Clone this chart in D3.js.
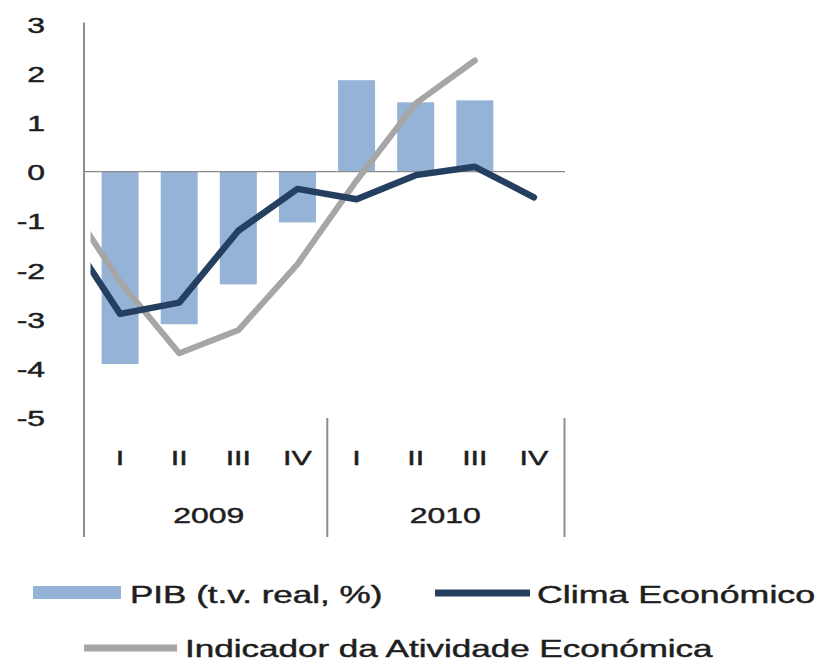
<!DOCTYPE html>
<html>
<head>
<meta charset="utf-8">
<script src="https://cdn.jsdelivr.net/npm/d3@7"></script>
<style>
  html, body { margin: 0; padding: 0; background: #fff; }
  svg { display: block; }
  text { font-family: "Liberation Sans", Arial, sans-serif; fill: #1e1e1e; stroke: #1e1e1e; stroke-width: 0.45px; }
</style>
</head>
<body>
<svg id="chart" width="822" height="662"></svg>
<script>
// ---- data ----
const quarterKeys = ["2008-IV", "2009-I", "2009-II", "2009-III", "2009-IV", "2010-I", "2010-II", "2010-III", "2010-IV"];
const quarterLabels = ["", "I", "II", "III", "IV", "I", "II", "III", "IV"];
const years = ["2009", "2010"];
const pib = [null, -3.91, -3.10, -2.29, -1.03, 1.86, 1.41, 1.45, null];
const clima = [-1.05, -2.89, -2.66, -1.20, -0.35, -0.56, -0.07, 0.10, -0.52];
const indicador = [-0.40, -2.24, -3.69, -3.22, -1.88, -0.18, 1.39, 2.26, null];
const yTicks = [3, 2, 1, 0, -1, -2, -3, -4, -5];
const seriesNames = ["PIB (t.v.  real, %)", "Clima Económico", "Indicador da Atividade Económica"];

// ---- layout ----
const SX = 1.45;             // horizontal stretch of the original image text
const colBar = "#95b3d7", colClima = "#243f60", colInd = "#a6a6a6", colAxis = "#8c8c8c";

const svg = d3.select("#chart");
const x = d3.scaleBand().domain(quarterKeys).range([31.4, 563.5]).paddingInner(0).paddingOuter(0);
const step = x.bandwidth();
const cx = k => x(k) + step / 2;
const y = d3.scaleLinear().domain([-5, 3]).range([417.7, 24.1]);

// clip for plot area
svg.append("defs").append("clipPath").attr("id", "plotclip")
  .append("rect").attr("x", 90.5).attr("y", 0).attr("width", 480).attr("height", 540);

// bars
const barW = 37;
svg.append("g").selectAll("rect")
  .data(quarterKeys.map((k, i) => ({ k, v: pib[i] })).filter(d => d.v !== null))
  .join("rect")
  .attr("x", d => cx(d.k) - barW / 2)
  .attr("width", barW)
  .attr("y", d => y(Math.max(0, d.v)))
  .attr("height", d => Math.abs(y(d.v) - y(0)))
  .attr("fill", colBar);

// zero line
svg.append("line").attr("x1", 84).attr("x2", 565).attr("y1", y(0)).attr("y2", y(0))
  .attr("stroke", colAxis).attr("stroke-width", 1.2);

// lines
const lineGen = d3.line().defined(d => d.v !== null).x(d => cx(d.k)).y(d => y(d.v));
const plotG = svg.append("g").attr("clip-path", "url(#plotclip)");
plotG.append("path")
  .datum(quarterKeys.map((k, i) => ({ k, v: indicador[i] })))
  .attr("d", lineGen).attr("fill", "none").attr("stroke", colInd)
  .attr("stroke-width", 6).attr("stroke-linejoin", "round").attr("stroke-linecap", "round");
plotG.append("path")
  .datum(quarterKeys.map((k, i) => ({ k, v: clima[i] })))
  .attr("d", lineGen).attr("fill", "none").attr("stroke", colClima)
  .attr("stroke-width", 6.5).attr("stroke-linejoin", "round").attr("stroke-linecap", "round");

// y axis
const yAxis = svg.append("g").attr("transform", "translate(84,0)")
  .call(d3.axisLeft(y).tickValues(yTicks).tickSize(0).tickFormat(d => String(d)));
yAxis.select(".domain").remove();
yAxis.selectAll("text")
  .attr("x", 0).attr("dy", "0.36em")
  .attr("transform", `translate(-39,0) scale(${SX},1)`)
  .style("font-size", "22px").style("font-family", "Liberation Sans, Arial, sans-serif")
  .attr("fill", "#1e1e1e");
svg.append("line").attr("x1", 84).attr("x2", 84).attr("y1", 22.5).attr("y2", 537)
  .attr("stroke", colAxis).attr("stroke-width", 2);

// category dividers
const dividerXs = [327.3, 564.5];
dividerXs.forEach(dx => {
  svg.append("line").attr("x1", dx).attr("x2", dx).attr("y1", 418).attr("y2", 537)
    .attr("stroke", colAxis).attr("stroke-width", 2);
});

function stretchedText(parent, tx, ty, str, size, anchor, sx) {
  return parent.append("text")
    .attr("transform", `translate(${tx},${ty}) scale(${sx || SX},1)`)
    .attr("text-anchor", anchor)
    .style("font-size", size + "px")
    .text(str);
}

// quarter labels
quarterKeys.forEach((k, i) => {
  if (quarterLabels[i]) stretchedText(svg, cx(k), 465, quarterLabels[i], 21, "middle");
});
// year labels
years.forEach(yr => {
  const ks = quarterKeys.filter(k => k.startsWith(yr));
  const mid = (cx(ks[0]) + cx(ks[ks.length - 1])) / 2;
  stretchedText(svg, mid, 523, yr, 22, "middle");
});

// legend
const lg = svg.append("g");
lg.append("rect").attr("x", 33).attr("y", 586).attr("width", 88).attr("height", 13).attr("fill", colBar);
stretchedText(lg, 130, 603, seriesNames[0], 24, "start", 1.46);
lg.append("line").attr("x1", 435).attr("x2", 530).attr("y1", 593).attr("y2", 593)
  .attr("stroke", colClima).attr("stroke-width", 7);
stretchedText(lg, 537, 603, seriesNames[1], 24, "start", 1.49);
lg.append("line").attr("x1", 84).attr("x2", 177).attr("y1", 648).attr("y2", 648)
  .attr("stroke", colInd).attr("stroke-width", 7);
stretchedText(lg, 185, 657, seriesNames[2], 24, "start", 1.46);
</script>
</body>
</html>
